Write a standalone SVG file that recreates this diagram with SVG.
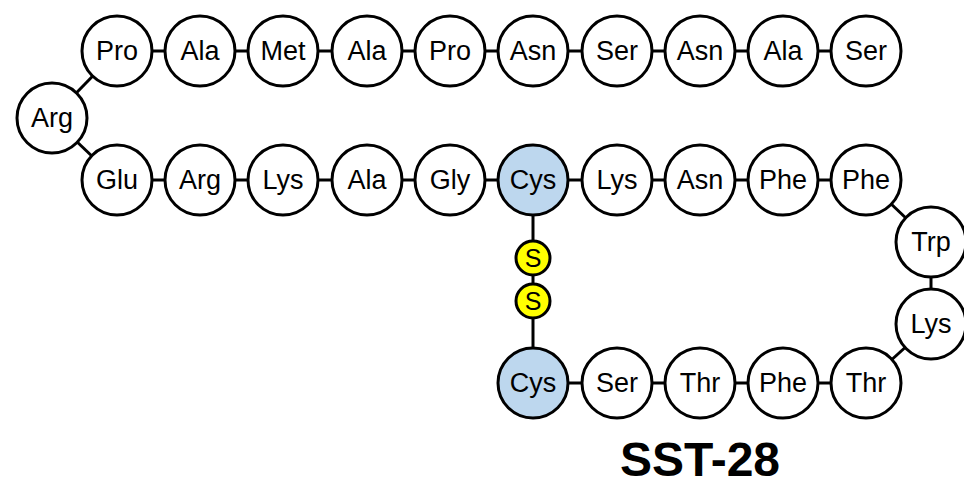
<svg xmlns="http://www.w3.org/2000/svg" width="964" height="487" viewBox="0 0 964 487">
<style>
.aa circle{fill:#fff;stroke:#000;stroke-width:3}
.aa.cys circle{fill:#bdd7ee}
.aa text{font-family:"Liberation Sans",Arial,sans-serif;font-size:27px;text-anchor:middle;dominant-baseline:central;fill:#000}
.s circle{fill:#ffff00;stroke:#000;stroke-width:3}
.s text{font-family:"Liberation Sans",Arial,sans-serif;font-size:25px;text-anchor:middle;dominant-baseline:central}
#connectors line{stroke:#000;stroke-width:3}
</style>
<g id="connectors">
<line x1="117" y1="51" x2="866" y2="51"/>
<line x1="117" y1="51" x2="52" y2="118"/>
<line x1="52" y1="118" x2="117" y2="180"/>
<line x1="117" y1="180" x2="866" y2="180"/>
<line x1="866" y1="180" x2="931" y2="242"/>
<line x1="931" y1="242" x2="931" y2="324"/>
<line x1="931" y1="324" x2="866" y2="383"/>
<line x1="533" y1="383" x2="866" y2="383"/>
<line x1="533" y1="180" x2="533" y2="383"/>
</g>
<g id="n1" class="aa"><circle cx="117" cy="51" r="35"/><text x="117" y="51">Pro</text></g>
<g id="n2" class="aa"><circle cx="200" cy="51" r="35"/><text x="200" y="51">Ala</text></g>
<g id="n3" class="aa"><circle cx="283" cy="51" r="35"/><text x="283" y="51">Met</text></g>
<g id="n4" class="aa"><circle cx="367" cy="51" r="35"/><text x="367" y="51">Ala</text></g>
<g id="n5" class="aa"><circle cx="450" cy="51" r="35"/><text x="450" y="51">Pro</text></g>
<g id="n6" class="aa"><circle cx="533" cy="51" r="35"/><text x="533" y="51">Asn</text></g>
<g id="n7" class="aa"><circle cx="617" cy="51" r="35"/><text x="617" y="51">Ser</text></g>
<g id="n8" class="aa"><circle cx="700" cy="51" r="35"/><text x="700" y="51">Asn</text></g>
<g id="n9" class="aa"><circle cx="783" cy="51" r="35"/><text x="783" y="51">Ala</text></g>
<g id="n10" class="aa"><circle cx="866" cy="51" r="35"/><text x="866" y="51">Ser</text></g>
<g id="n11" class="aa"><circle cx="52" cy="118" r="35"/><text x="52" y="118">Arg</text></g>
<g id="n12" class="aa"><circle cx="117" cy="180" r="35"/><text x="117" y="180">Glu</text></g>
<g id="n13" class="aa"><circle cx="200" cy="180" r="35"/><text x="200" y="180">Arg</text></g>
<g id="n14" class="aa"><circle cx="283" cy="180" r="35"/><text x="283" y="180">Lys</text></g>
<g id="n15" class="aa"><circle cx="367" cy="180" r="35"/><text x="367" y="180">Ala</text></g>
<g id="n16" class="aa"><circle cx="450" cy="180" r="35"/><text x="450" y="180">Gly</text></g>
<g id="n17" class="aa cys"><circle cx="533" cy="180" r="35"/><text x="533" y="180">Cys</text></g>
<g id="n18" class="aa"><circle cx="617" cy="180" r="35"/><text x="617" y="180">Lys</text></g>
<g id="n19" class="aa"><circle cx="700" cy="180" r="35"/><text x="700" y="180">Asn</text></g>
<g id="n20" class="aa"><circle cx="783" cy="180" r="35"/><text x="783" y="180">Phe</text></g>
<g id="n21" class="aa"><circle cx="866" cy="180" r="35"/><text x="866" y="180">Phe</text></g>
<g id="n22" class="aa"><circle cx="931" cy="242" r="35"/><text x="931" y="242">Trp</text></g>
<g id="n23" class="aa"><circle cx="931" cy="324" r="35"/><text x="931" y="324">Lys</text></g>
<g id="n24" class="aa"><circle cx="866" cy="383" r="35"/><text x="866" y="383">Thr</text></g>
<g id="n25" class="aa"><circle cx="783" cy="383" r="35"/><text x="783" y="383">Phe</text></g>
<g id="n26" class="aa"><circle cx="700" cy="383" r="35"/><text x="700" y="383">Thr</text></g>
<g id="n27" class="aa"><circle cx="617" cy="383" r="35"/><text x="617" y="383">Ser</text></g>
<g id="n28" class="aa cys"><circle cx="533" cy="383" r="35"/><text x="533" y="383">Cys</text></g>
<g id="s1" class="s"><circle cx="533" cy="258" r="17"/><text x="533" y="258">S</text></g>
<g id="s2" class="s"><circle cx="533" cy="301" r="17"/><text x="533" y="301">S</text></g>
<text x="700" y="476" font-family="'Liberation Sans',Arial,sans-serif" font-size="48" font-weight="bold" text-anchor="middle">SST-28</text>
</svg>
